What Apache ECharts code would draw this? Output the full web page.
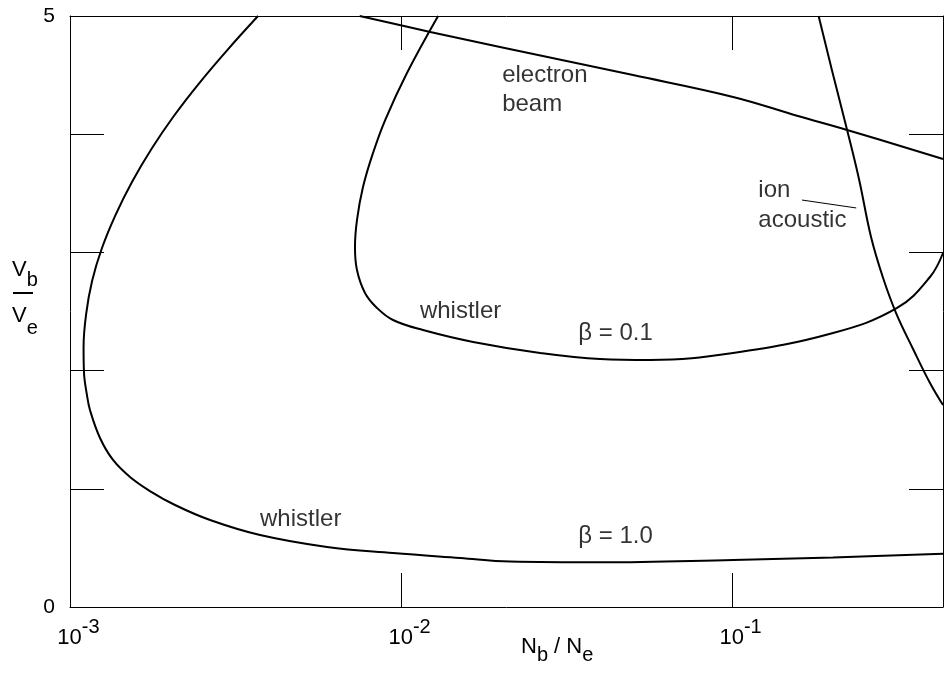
<!DOCTYPE html>
<html lang="en">
<head>
<meta charset="utf-8">
<script src="https://cdn.jsdelivr.net/npm/echarts@6/dist/echarts.min.js"></script>
</head>
<body style="margin:0; background:#fff">
<div id="container" style="width:948px; height:682px"></div>
<script>
// values: x = Nb/Ne (log), y = Vb/Ve
var beamX = [0.0075, 0.01225, 0.0199, 0.0502, 0.1007, 0.158, 0.2225, 0.4335];
var beamY = [5.0, 4.865, 4.738, 4.50, 4.315, 4.154, 4.036, 3.79];

var ionX = [0.1825, 0.2005, 0.2225, 0.242, 0.2628, 0.2858, 0.3128, 0.352, 0.396, 0.4335];
var ionY = [5.0, 4.535, 4.036, 3.613, 3.130, 2.783, 2.487, 2.183, 1.895, 1.709];

var beta01X = [0.01294, 0.01042, 0.008953, 0.008228, 0.007674, 0.007359, 0.007258, 0.007359, 0.007782,
  0.008458, 0.009455, 0.01165, 0.01651, 0.0263, 0.0399, 0.0565, 0.1007, 0.2018, 0.315, 0.396, 0.4335];
var beta01Y = [5.0, 4.518, 4.120, 3.841, 3.553, 3.274, 3.046, 2.851, 2.657,
  2.530, 2.428, 2.343, 2.242, 2.149, 2.098, 2.090, 2.149, 2.318, 2.53, 2.792, 2.995];

var beta10X = [0.003698, 0.002986, 0.002458, 0.002059, 0.001762, 0.001539, 0.001372, 0.001249, 0.001166,
  0.001119, 0.001099, 0.001102, 0.001125, 0.001149, 0.001232, 0.001349, 0.001518, 0.001744, 0.002076,
  0.002649, 0.003750, 0.005975, 0.009458, 0.01508, 0.02134, 0.03993, 0.1007, 0.2017, 0.4335];
var beta10Y = [5.0, 4.712, 4.433, 4.154, 3.875, 3.596, 3.316, 3.037, 2.758,
  2.479, 2.200, 1.988, 1.794, 1.667, 1.430, 1.244, 1.100, 0.981, 0.863,
  0.736, 0.609, 0.508, 0.457, 0.415, 0.385, 0.378, 0.398, 0.419, 0.450];

// short pointer from "ion" to the curve
var leaderX = [0.1626, 0.2371];
var leaderY = [3.443, 3.376];

var noteText = ['electron', 'beam', 'ion', 'acoustic', 'whistler', 'β = 0.1', 'whistler', 'β = 1.0'];
var noteX = [0.0202, 0.0202, 0.120, 0.120, 0.0114, 0.0343, 0.00375, 0.0343];
var noteY = [4.50, 4.255, 3.528, 3.274, 2.504, 2.318, 0.745, 0.601];

var yTickLabels = {0: '0', 5: '5'};

function pairs(xs, ys) {
  return xs.map(function (x, i) { return [x, ys[i]]; });
}

var FONT = '"Liberation Sans", Arial, Helvetica, sans-serif';

var chart = echarts.init(document.getElementById('container'), null, { renderer: 'canvas' });

function curve(name, xs, ys) {
  return {
    name: name,
    type: 'line',
    data: pairs(xs, ys),
    smooth: 0.4,
    symbol: 'none',
    silent: true,
    lineStyle: { color: '#000', width: 2 }
  };
}

// base text with a raised / lowered second part (power or subscript)
function scriptRich(size, lineH, lowered) {
  return {
    n: { fontFamily: FONT, fontSize: size, fill: '#000', color: '#000', verticalAlign: lowered ? 'top' : 'bottom' },
    s: { fontFamily: FONT, fontSize: size - 2, fill: '#000', color: '#000', lineHeight: lineH, verticalAlign: lowered ? 'bottom' : 'top' }
  };
}

var tickStyle = { inside: true, length: 34, lineStyle: { color: '#000', width: 1 } };
var lineStyle = { show: true, onZero: false, lineStyle: { color: '#000', width: 1 } };

var xRich = scriptRich(22, 32, false);
xRich.n.padding = [0, 0, 0, 17];

var option = {
  backgroundColor: '#fff',
  animation: false,
  grid: { left: 70, right: 5, top: 16, bottom: 75, containLabel: false },
  xAxis: [{
    type: 'log', logBase: 10, min: 0.001, max: 0.4335, position: 'bottom',
    axisLine: lineStyle, axisTick: tickStyle,
    minorTick: { show: false }, splitLine: { show: false },
    axisLabel: {
      margin: 10, showMaxLabel: false, showMinLabel: true,
      formatter: function (v) {
        var e = Math.round(Math.log(v) / Math.LN10);
        if (Math.abs(v / Math.pow(10, e) - 1) > 1e-6) return '';
        return '{n|10}{s|' + e + '}';
      },
      rich: xRich
    }
  }, {
    type: 'log', logBase: 10, min: 0.001, max: 0.4335, position: 'top',
    axisLine: lineStyle, axisTick: tickStyle,
    minorTick: { show: false }, splitLine: { show: false },
    axisLabel: { show: false }
  }],
  yAxis: [{
    type: 'value', min: 0, max: 5, interval: 1, position: 'left',
    axisLine: lineStyle, axisTick: tickStyle, splitLine: { show: false },
    axisLabel: {
      margin: 15, fontFamily: FONT, fontSize: 21, color: '#000',
      formatter: function (v) { return yTickLabels[v] || ''; }
    }
  }, {
    type: 'value', min: 0, max: 5, interval: 1, position: 'right',
    axisLine: lineStyle, axisTick: tickStyle, splitLine: { show: false },
    axisLabel: { show: false }
  }],
  series: [
    curve('electron beam', beamX, beamY),
    curve('ion acoustic', ionX, ionY),
    curve('whistler beta 0.1', beta01X, beta01Y),
    curve('whistler beta 1.0', beta10X, beta10Y),
    {
      name: 'leader', type: 'line', data: pairs(leaderX, leaderY),
      symbol: 'none', silent: true, lineStyle: { color: '#000', width: 1 }
    },
    {
      name: 'notes', type: 'scatter', symbolSize: 0, silent: true,
      data: noteX.map(function (x, i) { return { value: [x, noteY[i]], name: noteText[i] }; }),
      label: {
        show: true, position: [0, 0], align: 'left', verticalAlign: 'middle',
        fontFamily: FONT, fontSize: 24, color: '#000',
        formatter: function (p) { return p.name; }
      }
    }
  ],
  graphic: [
    {
      type: 'text', left: 521, top: 636,
      style: { text: '{n|N}{s|b}{n| / N}{s|e}', rich: scriptRich(22, 29, true) }
    },
    {
      type: 'text', left: 12, top: 259,
      style: { text: '{n|V}{s|b}', rich: scriptRich(22, 31, true) }
    },
    {
      type: 'line', shape: { x1: 13, y1: 293, x2: 33, y2: 293 },
      style: { stroke: '#000', lineWidth: 2 }
    },
    {
      type: 'text', left: 12, top: 305,
      style: { text: '{n|V}{s|e}', rich: scriptRich(22, 33, true) }
    }
  ]
};

chart.setOption(option);
window.addEventListener('resize', chart.resize);
</script>
</body>
</html>
